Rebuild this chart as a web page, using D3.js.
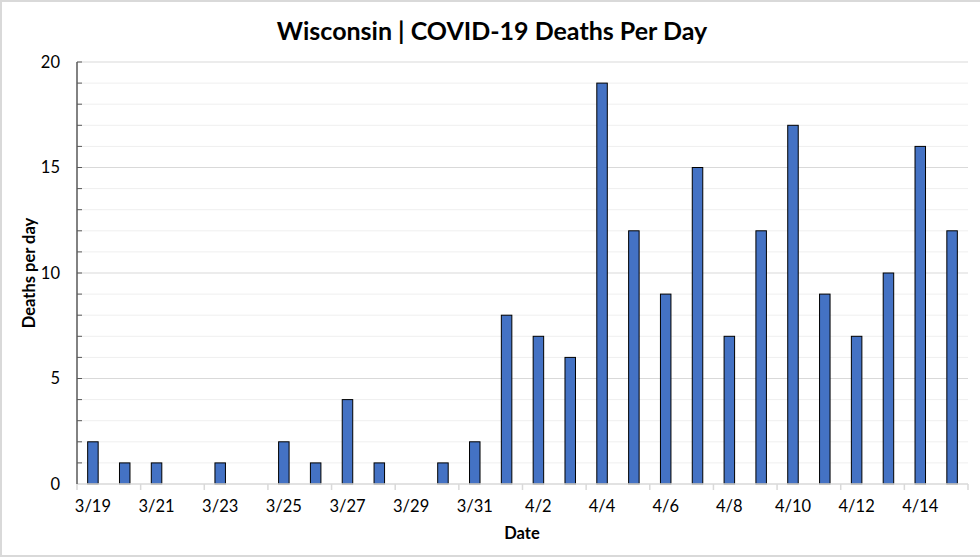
<!DOCTYPE html>
<html>
<head>
<meta charset="utf-8">
<script src="https://cdn.jsdelivr.net/npm/d3@7"></script>
<style>
  html, body { margin: 0; padding: 0; background: #fff; }
  svg { display: block; }
  text { font-family: Lato, "Open Sans", sans-serif; fill: #000; }
</style>
</head>
<body>
<svg id="chart" width="980" height="558"></svg>
<script>
const dates = ["3/19","3/20","3/21","3/22","3/23","3/24","3/25","3/26","3/27","3/28","3/29","3/30","3/31",
  "4/1","4/2","4/3","4/4","4/5","4/6","4/7","4/8","4/9","4/10","4/11","4/12","4/13","4/14","4/15"];
const deaths = [2,1,1,0,1,0,2,1,4,1,0,1,2,8,7,6,19,12,9,15,7,12,17,9,7,10,16,12];
const yTicks = [0,5,10,15,20];
const titleText = "Wisconsin | COVID-19 Deaths Per Day";
const xTitle = "Date";
const yTitle = "Deaths per day";

const W = 980, H = 558;
const m = {left: 77, right: 12, top: 62, bottom: 74};
const svg = d3.select("#chart");

// outer frame
svg.append("rect").attr("x", 1).attr("y", 1).attr("width", W + 10).attr("height", H - 3)
  .attr("fill", "none").attr("stroke", "#d9d9d9").attr("stroke-width", 2);

const x = d3.scaleBand().domain(dates).range([m.left, W - m.right]).paddingInner(0).paddingOuter(0);
const y = d3.scaleLinear().domain([0, 20]).range([H - m.bottom, m.top]);

const g = svg.append("g");

// minor gridlines
g.selectAll("line.minor").data(d3.range(1, 21).filter(v => v % 5 !== 0)).join("line")
  .attr("x1", m.left).attr("x2", W - m.right)
  .attr("y1", d => y(d)).attr("y2", d => y(d))
  .attr("stroke", "#efefef").attr("stroke-width", 1);
// major gridlines
g.selectAll("line.major").data(yTicks.filter(v => v > 0)).join("line")
  .attr("x1", m.left).attr("x2", W - m.right)
  .attr("y1", d => y(d)).attr("y2", d => y(d))
  .attr("stroke", "#d9d9d9").attr("stroke-width", 1);

// bars
const bw = x.bandwidth() * 0.33;
g.selectAll("rect.bar").data(deaths).join("rect")
  .attr("x", (d, i) => x(dates[i]) + x.bandwidth() / 2 - bw / 2)
  .attr("y", d => y(d))
  .attr("width", bw)
  .attr("height", d => y(0) - y(d))
  .attr("fill", "#4472c4").attr("stroke", "#000").attr("stroke-width", 1)
  .attr("display", d => d > 0 ? null : "none");

// x axis line and ticks
g.append("line").attr("x1", m.left).attr("x2", W - m.right)
  .attr("y1", y(0)).attr("y2", y(0)).attr("stroke", "#d9d9d9").attr("stroke-width", 1.5);
const tickDates = dates.filter((d, i) => i % 2 === 0);
g.selectAll("line.xt").data(tickDates.concat(["__end"])).join("line")
  .attr("x1", d => d === "__end" ? W - m.right : x(d))
  .attr("x2", d => d === "__end" ? W - m.right : x(d))
  .attr("y1", y(0)).attr("y2", y(0) + 6)
  .attr("stroke", "#d9d9d9").attr("stroke-width", 1.5);
g.selectAll("text.xl").data(tickDates).join("text")
  .attr("x", d => x(d) + x.bandwidth() / 2)
  .attr("y", 512)
  .attr("text-anchor", "middle")
  .attr("font-size", 16.5)
  .text(d => d);

// y axis
g.append("line").attr("x1", m.left).attr("x2", m.left)
  .attr("y1", y(0)).attr("y2", y(20)).attr("stroke", "#595959").attr("stroke-width", 1.5);
g.selectAll("line.yt").data(d3.range(1, 21)).join("line")
  .attr("x1", m.left).attr("x2", m.left + 5)
  .attr("y1", d => y(d)).attr("y2", d => y(d))
  .attr("stroke", "#595959").attr("stroke-width", 1);
g.selectAll("text.yl").data(yTicks).join("text")
  .attr("x", 60).attr("y", d => y(d) + 5.5)
  .attr("text-anchor", "end")
  .attr("font-size", 16.5)
  .text(d => d);

// titles
svg.append("text").attr("x", 492).attr("y", 40).attr("text-anchor", "middle")
  .attr("font-size", 25).attr("font-weight", "bold").text(titleText);
svg.append("text").attr("x", 522).attr("y", 539).attr("text-anchor", "middle")
  .attr("font-size", 16.5).attr("font-weight", "bold").text(xTitle);
svg.append("text").attr("transform", "translate(35," + ((y(0) + y(20)) / 2) + ") rotate(-90)")
  .attr("text-anchor", "middle")
  .attr("font-size", 16.5).attr("font-weight", "bold").text(yTitle);
</script>
</body>
</html>
